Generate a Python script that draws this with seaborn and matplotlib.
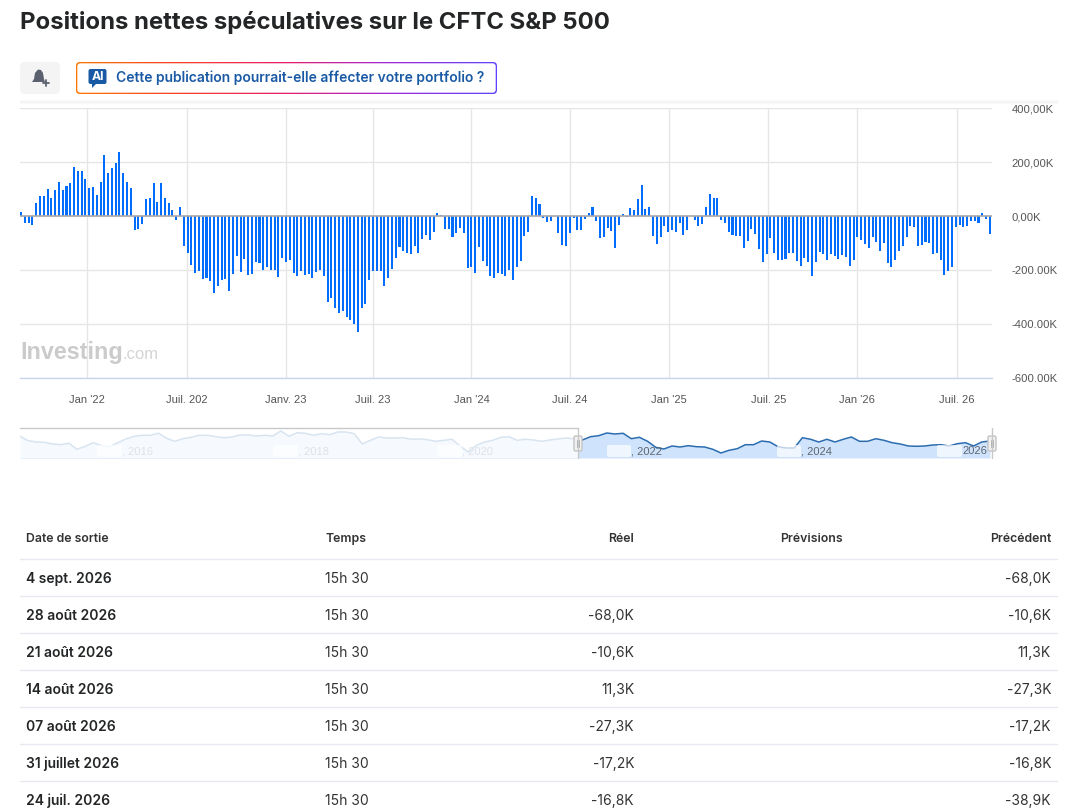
import numpy as np
import pandas as pd
import seaborn as sns
import matplotlib.pyplot as plt
import matplotlib.dates as mdates
from matplotlib.patches import FancyBboxPatch, Polygon, Rectangle

W, H = 1082, 808

# weekly net positions, thousands
net_positions = [
    15, -27, -27, -35, 49, 75, 75, 101, 68, 98, 127, 98, 112, 123, 183, 168, 168, 138, 105, 109,
    79, 127, 227, 160, 179, 198, 238, 160, 127, 105, -53, -49, -31, 64, 68, 123, 53, 123, 68, 49,
    23, -16, 35, -112, -138, -183, -212, -205, -235, -231, -242, -287, -261, -238, -235, -279, -216, -149, -209, -160,
    -220, -216, -172, -175, -201, -190, -201, -201, -227, -157, -172, -164, -212, -224, -205, -220, -216, -231, -209, -201,
    -224, -320, -305, -342, -361, -353, -375, -387, -401, -431, -342, -327,
    -238, -205, -205, -205, -261, -231, -198, -157, -116, -131, -138, -142, -112, -138, -86, -72, -90, -60,
    12, 5, -49, -49, -79, -64, -46, -64, -194, -190, -212, -116, -168, -186, -224, -231, -212, -216, -224, -201,
    -238, -190, -168, -75, -60, 75, 68, 46, -9, -23, -20, 0, -64, -109, -112, -64, -9, -53, -53, -12,
    12, 35, -20, -83, -79, -46, -57, -120, -35, 9, -5, 31, 23, 64, 116, 27, 35, -75, -105, -79,
    -38, -60, -53, -60, -27, -72, -53, 0, -16, -38, -31, 35, 83, 68, 68,
    -16, -27, -60, -72, -75, -75, -120, -94, -49, -68, -123, -172, -142, -83, -138, -164, -164, -160, -138, -138,
    -168, -186, -157, -172, -224, -172, -135, -142, -164, -142, -149, -160, -146, -153, -186, -164, -79, -90, -105, -120,
    -79, -98, -131, -101, -175, -190, -164, -131, -112, -79, -38, -42, -112, -109, -98, -101, -142, -138, -164, -220,
    -205, -190, -38.9, -35, -42, -38, -16.8, -17.2, -27.3, 11.3, -10.6, -68,
]

tick_dates = ["2022-01-31", "2022-08-04", "2023-02-03", "2023-07-14", "2024-01-12",
              "2024-07-12", "2025-01-11", "2025-07-14", "2025-12-25", "2026-06-28"]
tick_labels = ["Jan '22", "Juil. 202", "Janv. 23", "Juil. 23", "Jan '24",
               "Juil. 24", "Jan '25", "Juil. 25", "Jan '26", "Juil. 26"]
y_ticks = [400, 200, 0, -200, -400, -600]
y_labels = ["400,00K", "200,00K", "0,00K", "-200.00K", "-400.00K", "-600.00K"]

# overview strip, height of the line in the small chart
nav_values = [
    21.7, 17.3, 16, 15.7, 14, 13.3, 14.7, 8.7, 11.7, 15.3, 12.3, 11.3, 15.3, 19, 21.7, 22.7, 22.7, 24.7, 19.7, 16.7,
    19.3, 20.7, 22.7, 22.7, 21.3, 20.3, 21, 23, 23, 22, 22.7, 22, 27, 21.7, 25.3, 24.7, 22.7, 24.3, 23.3, 26, 26,
    24.3, 14, 17.7, 21, 20, 20, 20.3, 18.7, 19, 18.3, 16.7, 17.7, 18.7, 12, 6, 12.7, 16, 17.7, 20.7,
    21.3, 17.7, 18.7, 18, 16.7, 18, 19, 20, 19.3, 18, 21.3, 22.3, 25, 24, 24.7, 19.3, 20.7, 16.7, 10.7, 9,
    12, 11, 12.3, 11.3, 11, 8.7, 5, 7.7, 9.3, 13.3, 13.3, 17, 16, 11.3, 10, 10, 20.3, 18.7, 16, 18.7,
    16, 18.7, 21, 16.7, 16.7, 19.3, 17.7, 15.3, 14, 12, 11.7, 12, 13, 13.3, 12, 14.3, 15.3, 12, 16, 17,
]

headers = ["Date de sortie", "Temps", "Réel", "Prévisions", "Précédent"]
release_dates = ["4 sept. 2026", "28 août 2026", "21 août 2026", "14 août 2026",
                 "07 août 2026", "31 juillet 2026", "24 juil. 2026"]
release_times = ["15h 30"] * 7
actual = ["", "-68,0K", "-10,6K", "11,3K", "-27,3K", "-17,2K", "-16,8K"]
previous = ["-68,0K", "-10,6K", "11,3K", "-27,3K", "-17,2K", "-16,8K", "-38,9K"]


def px_axes(fig, left, top, right, bottom, **kw):
    return fig.add_axes([left / W, 1 - bottom / H, (right - left) / W, (bottom - top) / H], **kw)


sns.set_style("white")
plt.rcParams["font.family"] = ["Inter", "DejaVu Sans"]
chart_font = "Liberation Sans"

fig = plt.figure(figsize=(W / 100, H / 100), dpi=100)

# page layer in pixel coordinates, sits under the charts
page = px_axes(fig, 0, 0, W, H, zorder=0)
page.set_xlim(0, W)
page.set_ylim(H, 0)
page.axis("off")

page.text(20, 22, "Positions nettes spéculatives sur le CFTC S&P 500", fontsize=17.2,
          fontweight="bold", color="#232526", va="center")

# bell button
page.add_patch(FancyBboxPatch((22, 64), 36, 28, boxstyle="round,pad=0,rounding_size=3",
                              fc="#f4f4f5", ec="#f4f4f5", lw=3))
page.add_patch(Polygon([(32, 82), (34, 79), (35, 73), (38, 69.5), (41, 70), (43, 73),
                        (44, 79), (45, 82)], fc="#5b616e", ec="none"))
page.plot([43, 48.5], [83, 83], color="#5b616e", lw=1.3)
page.plot([45.7, 45.7], [80, 86], color="#5b616e", lw=1.3)

# AI button with gradient border
gradient = np.array([np.linspace(0, 1, 300)])
cmap = plt.matplotlib.colors.LinearSegmentedColormap.from_list(
    "border", ["#ff7400", "#f8402a", "#e6206e", "#a02ad8", "#5f44ff"])
border = FancyBboxPatch((76, 62), 421, 32, boxstyle="round,pad=0,rounding_size=4", fc="none", ec="none",
                        transform=page.transData)
page.add_patch(border)
img = page.imshow(gradient, extent=(76, 497, 94, 62), cmap=cmap, aspect="auto", zorder=1)
img.set_clip_path(border)
page.set_xlim(0, W)
page.set_ylim(H, 0)
page.add_patch(FancyBboxPatch((77.3, 63.3), 418.4, 29.4, boxstyle="round,pad=0,rounding_size=3",
                              fc="white", ec="none", zorder=2))
page.add_patch(FancyBboxPatch((88.5, 69), 18, 15, boxstyle="round,pad=0,rounding_size=2",
                              fc="#1a5aa5", ec="none", zorder=3))
page.add_patch(Polygon([(92, 83), (97, 83), (92, 88)], fc="#1a5aa5", ec="none", zorder=3))
page.text(97.5, 76.5, "AI", fontsize=8.8, fontweight="bold", color="white", ha="center", va="center", zorder=4)
page.text(116, 82, "Cette publication pourrait-elle affecter votre portfolio ?", fontsize=10,
          fontweight="semibold", color="#1a5aa5", va="baseline", zorder=4)

# soft shadow over the chart
for i, col in enumerate(["#fbfbfb", "#f7f7f7", "#f2f2f2", "#fafafa"]):
    page.plot([20, 1057], [100 + i, 100 + i], color=col, lw=1)

# watermark
page.text(20, 359, "Investing", fontsize=16.8, fontweight="bold", color="#cbcbcb",
          family=chart_font, va="baseline")
page.text(122.5, 359, ".com", fontsize=12, color="#d4d4d4", family=chart_font, va="baseline")

# table
for y in [559, 596, 633, 670, 707, 744, 781]:
    page.plot([20, 1057], [y, y], color="#e6e9f0", lw=1)
header_x = [26, 325, 634, 843, 1051]
header_ha = ["left", "left", "right", "right", "right"]
for x, ha, label in zip(header_x, header_ha, headers):
    page.text(x, 542, label, fontsize=8.85, fontweight="semibold", color="#333", ha=ha, va="baseline")
for i in range(len(release_dates)):
    y = 583 + 37 * i
    page.text(26, y, release_dates[i], fontsize=10, fontweight="semibold", color="#232526", va="baseline")
    page.text(325, y, release_times[i], fontsize=10, color="#333", va="baseline")
    page.text(634, y, actual[i], fontsize=10, color="#333", ha="right", va="baseline")
    page.text(1051, y, previous[i], fontsize=10, color="#333", ha="right", va="baseline")

# main bar chart
dates = pd.date_range(end="2026-08-28", periods=len(net_positions), freq="7D")
df = pd.DataFrame({"date": mdates.date2num(dates), "value": net_positions})

ax = px_axes(fig, 20, 108, 992, 378, zorder=1)
ax.patch.set_alpha(0)
sns.barplot(data=df, x="date", y="value", native_scale=True, color="#006dff", saturation=1,
            width=0.54, linewidth=0, edgecolor="none", ax=ax, zorder=3)
ax.set_xlim(df["date"].iloc[0] - 2, df["date"].iloc[-1] + 4)
ax.set_ylim(-600, 400)
ax.set_xticks(mdates.date2num(pd.to_datetime(tick_dates)))
ax.set_xticklabels(tick_labels, fontsize=8, color="#555", family=chart_font)
ax.set_yticks(y_ticks)
ax.set_yticklabels(y_labels, fontsize=8.1, color="#555", family=chart_font)
ax.yaxis.tick_right()
ax.tick_params(axis="y", length=0, pad=14)
ax.tick_params(axis="x", length=0, pad=12)
ax.set_xlabel("")
ax.set_ylabel("")
ax.grid(True, color="#e6e6e6", lw=1, zorder=0)
ax.set_axisbelow(True)
ax.axhline(0, color="#aaaaaa", lw=1.2, zorder=4)
for side in ["top", "left", "right"]:
    ax.spines[side].set_visible(False)
ax.spines["bottom"].set_color("#c7d6ec")
ax.spines["bottom"].set_linewidth(1)

# overview strip
nav_dates = pd.date_range(start="2015-03-25", periods=len(nav_values), freq="35D")
nav = px_axes(fig, 20, 428, 992, 458, zorder=1)
nav.patch.set_alpha(0)
nav.fill_between(nav_dates, nav_values, 0, color="#cfe4fc", lw=0)
sns.lineplot(x=nav_dates, y=nav_values, color="#2b6cb0", lw=1.1, ax=nav)
nav.set_xlim(nav_dates[0], nav_dates[0] + pd.Timedelta(days=4174))
nav.set_ylim(0, 30)
nav.axis("off")

# things drawn on top of the strip
top = px_axes(fig, 0, 0, W, H, zorder=2)
top.set_xlim(0, W)
top.set_ylim(H, 0)
top.axis("off")
top.patch.set_alpha(0)
top.add_patch(Rectangle((20, 428), 558, 30, fc="white", alpha=0.82, ec="none"))
for x0, x1 in [(97, 122), (273, 298), (437, 462), (607, 631), (777, 801), (937, 962)]:
    top.add_patch(FancyBboxPatch((x0, 445), x1 - x0, 12, boxstyle="round,pad=0,rounding_size=2",
                                 fc="white", alpha=0.7, ec="none"))
for x, label, col in [(122, ", 2016", "#dfe2e6"), (298, ", 2018", "#dfe2e6"), (462, ", 2020", "#dfe2e6"),
                      (631, ", 2022", "#5f6670"), (801, ", 2024", "#5f6670"), (962, "2026", "#5f6670")]:
    top.text(x, 451, label, fontsize=8, color=col, family=chart_font, va="center")
top.plot([20, 578, 578], [428, 428, 458], color="#c8c8c8", lw=1)
top.plot([992, 992], [428, 458], color="#c8c8c8", lw=1)
for x in [578, 992]:
    top.add_patch(FancyBboxPatch((x - 4, 436), 8, 15, boxstyle="round,pad=0,rounding_size=1.5",
                                 fc="#f0f0f0", ec="#c4c4c4", lw=1))
    top.plot([x - 1, x - 1], [440, 447], color="#b5b5b5", lw=0.7)
    top.plot([x + 1, x + 1], [440, 447], color="#b5b5b5", lw=0.7)

fig.savefig("out.png", dpi=100)
